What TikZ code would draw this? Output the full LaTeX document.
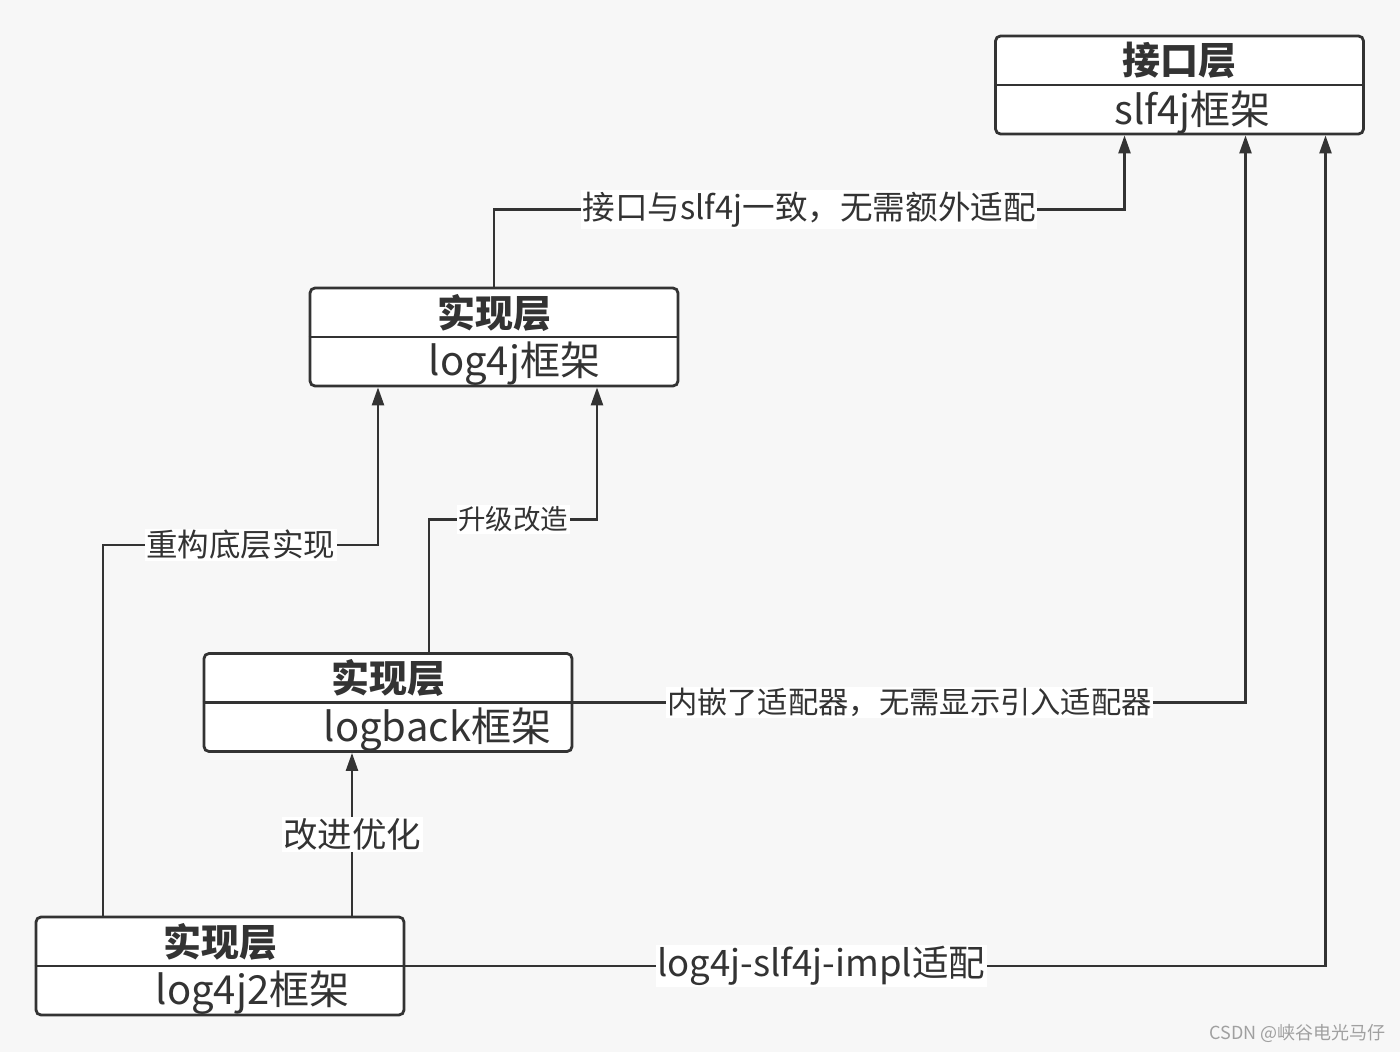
\documentclass[tikz,border=0pt]{standalone}
\usepackage{fontspec}
\setmainfont{Noto Sans CJK SC}
\usepackage{tikz}
\usetikzlibrary{arrows.meta,calc}
\definecolor{lyrline}{HTML}{333333}
\definecolor{lyrbg}{HTML}{F7F7F7}
\definecolor{lyrmark}{HTML}{A0A0A0}

\begin{document}
\begin{tikzpicture}[
  x=1pt, y=-1pt,
  layer/.style={draw=lyrline, line width=2.8pt, rounded corners=5pt, fill=white,
                minimum width=368pt, minimum height=98pt, inner sep=0pt},
  layertitle/.style={font=\fontsize{38}{40}\selectfont\bfseries, text=lyrline, inner sep=0pt},
  layerimpl/.style={font=\fontsize{40}{42}\selectfont, text=lyrline, inner sep=0pt, anchor=west},
  divider/.style={draw=lyrline, line width=2.4pt},
  link/.style={draw=lyrline, line width=2.4pt, -{Triangle[length=18pt,width=12pt]}},
  tag/.style={fill=white, inner sep=1.5pt, text=lyrline}
]
\fill[lyrbg] (0,0) rectangle (1400,1052);
\useasboundingbox (0,0) rectangle (1400,1052);

\node[layer] (api) at (1179.5,85) {};
\draw[divider] (api.west) -- (api.east);
\node[layertitle] (apititle) at ($(api.center)+(0,-24.5)$) {接口层};
\node[layerimpl] (apiimpl) at ($(api.west)+(120,27)$) {slf4j框架};

\node[layer] (log4j) at (494,337) {};
\draw[divider] (log4j.west) -- (log4j.east);
\node[layertitle] (log4jtitle) at ($(log4j.center)+(0,-24.5)$) {实现层};
\node[layerimpl] (log4jimpl) at ($(log4j.west)+(120,27)$) {log4j框架};

\node[layer] (logback) at (388,702.5) {};
\draw[divider] (logback.west) -- (logback.east);
\node[layertitle] (logbacktitle) at ($(logback.center)+(0,-24.5)$) {实现层};
\node[layerimpl] (logbackimpl) at ($(logback.west)+(121,27)$) {logback框架};

\node[layer] (log4j2) at (220,966) {};
\draw[divider] (log4j2.west) -- (log4j2.east);
\node[layertitle] (log4j2title) at ($(log4j2.center)+(0,-24.5)$) {实现层};
\node[layerimpl] (log4j2impl) at ($(log4j2.west)+(121,27)$) {log4j2框架};

\draw[link] (log4j.north) -- ++(0,-77) -| node[tag, pos=0.25, font=\fontsize{32.6}{34}\selectfont] {接口与slf4j一致，无需额外适配} ([xshift=-55pt]api.south);
\draw[link] ([xshift=41pt]logback.north) -- ++(0,-132.6) -| node[tag, pos=0.25, font=\fontsize{27.5}{30}\selectfont] {升级改造} ([xshift=103pt]log4j.south);
\draw[link] ([xshift=-117pt]log4j2.north) -- ++(0,-370.6) -| node[tag, pos=0.25, font=\fontsize{31.5}{33}\selectfont] {重构底层实现} ([xshift=-116pt]log4j.south);
\draw[link] ([xshift=132pt]log4j2.north) -- node[tag, font=\fontsize{34.5}{36}\selectfont] {改进优化} ([xshift=-36pt]logback.south);
\draw[link] (logback.east) -| node[tag, pos=0.25, font=\fontsize{30.3}{32}\selectfont] {内嵌了适配器，无需显示引入适配器} ([xshift=66pt]api.south);
\draw[link] (log4j2.east) -| node[tag, pos=0.226, font=\fontsize{36.5}{38}\selectfont] {log4j-slf4j-impl适配} ([xshift=146pt]api.south);

\node[anchor=east, text=lyrmark, inner sep=0pt, font=\fontsize{18}{20}\selectfont] (mark) at (1386,1033) {CSDN @峡谷电光马仔};
\end{tikzpicture}
\end{document}
